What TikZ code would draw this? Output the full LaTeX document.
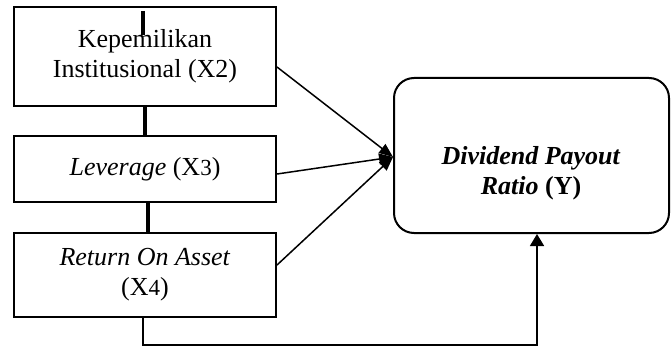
\documentclass[tikz,border=0pt]{standalone}
\usepackage{fontspec}
\setmainfont{Liberation Serif}
\usetikzlibrary{arrows.meta,calc}
\begin{document}
\begin{tikzpicture}[x=0.5pt,y=-0.5pt,
  txt/.style={font=\fontsize{13}{15}\selectfont, align=center},
  box/.style={txt, draw, line width=1pt, minimum width=131pt, inner sep=0pt},
  ybox/.style={draw, line width=1pt, rounded corners=10pt, minimum width=137.5pt, minimum height=77.5pt, inner sep=0pt},
  thickline/.style={line width=2pt},
  arr/.style={line width=0.75pt, -{Triangle[length=7pt,width=5.5pt]}},
  uparr/.style={line width=0.75pt, -{Triangle[length=6pt,width=7pt]}}]
\useasboundingbox (0,0) rectangle (672,347);
\newcommand{\sdig}[1]{{\fontsize{11.5}{15}\selectfont #1}}
\node[box, minimum height=49.5pt] (b1) at (145,56.5) {Kepemilikan\\Institusional (X2)};
\node[box, minimum height=33pt] (b2) at (145,169) {\textit{Leverage} (X\sdig{3})};
\node[box, minimum height=42pt] (b3) at (145,275) {\textit{Return On Asset}\\(X\sdig{4})};
\node[ybox] (y) at (531.5,155.5) {};
\node[txt] (ytext) at (531,173) {\textbf{\textit{Dividend Payout}}\\\textbf{\textit{Ratio} (Y)}};
% thick marks and links
\draw[thickline] ($(b1.north)+(-2,5)$) -- ($(b1.north)+(-2,29)$);
\draw[thickline] (b1.south) -- (b2.north);
\draw[thickline] ($(b2.south)+(3,0)$) -- ($(b3.north)+(3,0)$);
% arrows into Y
\coordinate (tgt) at ($(y.west)+(0,1.5)$);
\draw[arr] ($(b1.east)+(0,10.5)$) -- (tgt);
\draw[arr] ($(b2.east)+(0,5)$) -- (tgt);
\draw[arr] ($(b3.east)+(0,-10)$) -- (tgt);
% bottom link
\coordinate (c1) at (143,345);
\coordinate (c2) at (537,345);
\draw[uparr] ($(b3.south)+(-2,0)$) -- (c1) -- (c2) -- (y.south -| c2);
\end{tikzpicture}
\end{document}
